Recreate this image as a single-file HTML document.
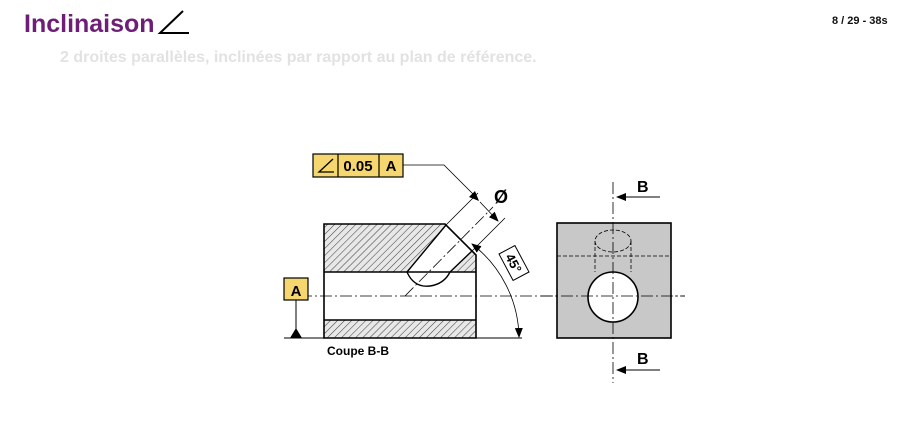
<!DOCTYPE html>
<html><head><meta charset="utf-8"><style>
html,body{margin:0;padding:0;background:#fff;width:913px;height:442px;overflow:hidden;font-family:"Liberation Sans",sans-serif}
</style></head><body>
<svg width="913" height="442" viewBox="0 0 913 442" xmlns="http://www.w3.org/2000/svg" font-family="Liberation Sans, sans-serif">
<defs>
<pattern id="h" patternUnits="userSpaceOnUse" width="5" height="5" patternTransform="rotate(45)">
<rect width="5" height="5" fill="#e8e8e8"/><line x1="0" y1="0" x2="0" y2="5" stroke="#444" stroke-width="1.1"/>
</pattern>
<marker id="ar" markerWidth="10" markerHeight="8" refX="9" refY="4" orient="auto-start-reverse" markerUnits="userSpaceOnUse"><path d="M0,0 L10,4 L0,8z" fill="#000"/></marker>
</defs>
<rect width="913" height="442" fill="#fff"/>
<text x="24" y="32" font-size="25" font-weight="bold" fill="#6f1e78">Inclinaison</text>
<path d="M183,11 L160,33 L189,33" fill="none" stroke="#000" stroke-width="2"/>
<text x="60" y="62" font-size="16" font-weight="bold" fill="#e2e2e2">2 droites parallèles, inclinées par rapport au plan de référence.</text>
<text x="832" y="24" font-size="11" font-weight="bold" fill="#111">8 / 29 - 38s</text>

<!-- left block -->
<path d="M324,224 L445,224 L476,255 L476,272 L324,272Z" fill="url(#h)"/>
<rect x="324" y="320" width="152" height="18" fill="url(#h)"/>
<path d="M407,272 L446,225 L472,251 L450,272 Q440,290 428,286 Q412,282 407,272Z" fill="#fff"/>
<path d="M324,224 L445,224 L476,255 L476,338 L324,338Z M324,272 L476,272 M324,320 L476,320" fill="none" stroke="#000" stroke-width="1.6"/>
<path d="M407,272 L446,225 M450,272 L472,251 M407,272 Q414,288 430,286 Q444,284 450,272" fill="none" stroke="#000" stroke-width="1.4"/>
<!-- extension lines -->
<path d="M446,225 L478,193 M472,251 L505,218" stroke="#000" stroke-width="0.8"/>
<line x1="480" y1="202" x2="498" y2="221" stroke="#000" stroke-width="0.8" marker-end="url(#ar)"/>
<text x="501" y="203" font-size="18" font-weight="bold" text-anchor="middle">Ø</text>
<!-- inclined axis -->
<line x1="405" y1="296" x2="493" y2="207" stroke="#000" stroke-width="0.8" stroke-dasharray="12,3,2,3"/>
<!-- horizontal axis -->
<line x1="300" y1="296" x2="685" y2="296" stroke="#000" stroke-width="0.8" stroke-dasharray="12,3,2,3"/>
<!-- baseline -->
<line x1="284" y1="338" x2="522" y2="338" stroke="#000" stroke-width="1"/>
<!-- datum -->
<rect x="284" y="278" width="24" height="22" fill="#f6d66e" stroke="#000" stroke-width="1.2"/>
<text x="296" y="296" font-size="15" font-weight="bold" text-anchor="middle">A</text>
<line x1="296" y1="300" x2="296" y2="330" stroke="#000"/>
<path d="M290,338 L296,328 L302,338Z" fill="#000"/>
<!-- arc -->
<path d="M519,337 A120,120 0 0 0 472,244" fill="none" stroke="#000" stroke-width="0.8" marker-end="url(#ar)" marker-start="url(#ar)"/>
<g transform="translate(514,263) rotate(62)">
<rect x="-15" y="-9" width="30" height="18" fill="#fff" stroke="#000" stroke-width="1"/>
<text x="0" y="5" font-size="13" font-weight="bold" text-anchor="middle">45°</text>
</g>
<!-- feature frame -->
<rect x="313" y="154" width="90" height="23" fill="#f6d66e" stroke="#000" stroke-width="1.2"/>
<line x1="338" y1="154" x2="338" y2="177" stroke="#000" stroke-width="1.2"/>
<line x1="379" y1="154" x2="379" y2="177" stroke="#000" stroke-width="1.2"/>
<path d="M333,159 L319,172 L334,172" fill="none" stroke="#000" stroke-width="1.3"/>
<text x="358" y="171" font-size="15" font-weight="bold" text-anchor="middle">0.05</text>
<text x="391" y="171" font-size="15" font-weight="bold" text-anchor="middle">A</text>
<path d="M403,165 L444,165 L477,198" fill="none" stroke="#000" stroke-width="0.8"/>
<path d="M479,201 L469,197 L475,191Z" fill="#000"/>
<text x="327" y="355" font-size="12" font-weight="bold">Coupe B-B</text>

<!-- right view -->
<rect x="557" y="223" width="114" height="115" fill="#c8c8c8" stroke="#000" stroke-width="1.6"/>
<line x1="557" y1="256" x2="671" y2="256" stroke="#000" stroke-width="0.8" stroke-dasharray="4,2"/>
<ellipse cx="613" cy="241" rx="18" ry="11" fill="none" stroke="#000" stroke-width="0.8" stroke-dasharray="4,2"/>
<path d="M595,241 L595,272 M631,241 L631,272" stroke="#000" stroke-width="0.8" stroke-dasharray="4,2"/>
<circle cx="613" cy="297" r="25" fill="#fff" stroke="#000" stroke-width="1.6"/>
<line x1="541" y1="296" x2="685" y2="296" stroke="#000" stroke-width="0.8" stroke-dasharray="12,3,2,3"/>
<line x1="613" y1="182" x2="613" y2="383" stroke="#000" stroke-width="0.8" stroke-dasharray="12,3,2,3"/>
<line x1="660" y1="197" x2="617" y2="197" stroke="#000" stroke-width="1" marker-end="url(#ar)"/>
<line x1="660" y1="370" x2="617" y2="370" stroke="#000" stroke-width="1" marker-end="url(#ar)"/>
<text x="637" y="192" font-size="16" font-weight="bold">B</text>
<text x="637" y="364" font-size="16" font-weight="bold">B</text>
</svg>
</body></html>
